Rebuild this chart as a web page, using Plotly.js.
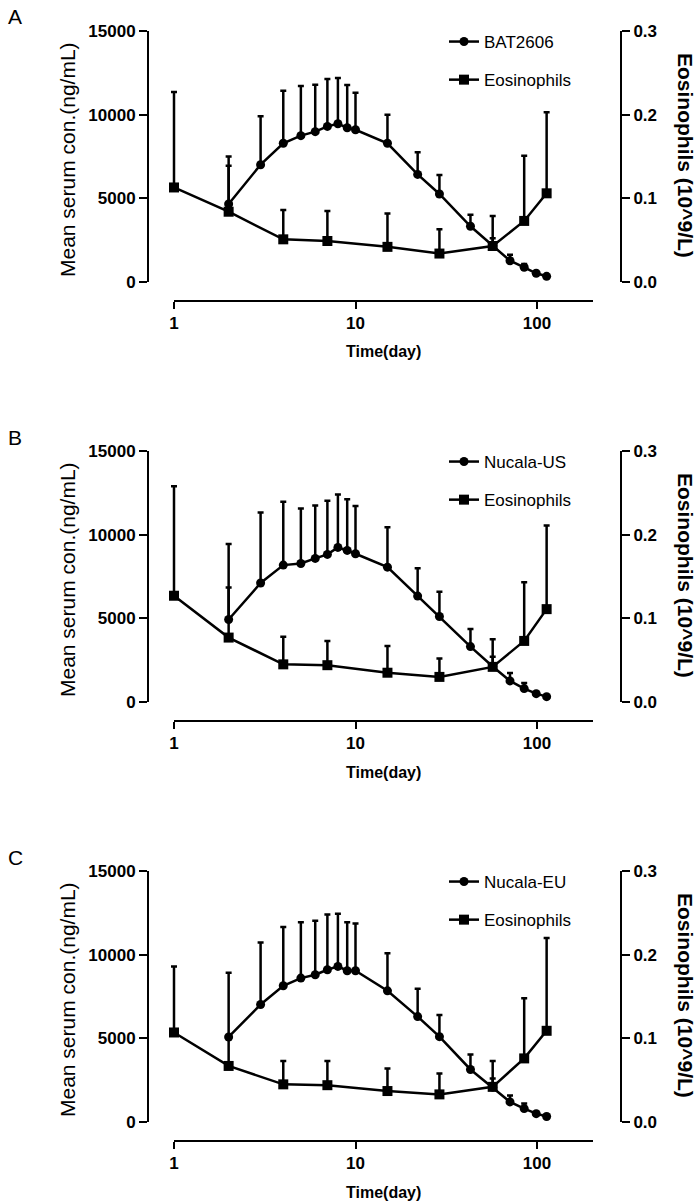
<!DOCTYPE html>
<html>
<head>
<meta charset="utf-8">
<script src="https://cdn.plot.ly/plotly-3.0.1.min.js"></script>
<style>html,body{margin:0;padding:0;background:#fff;}#chart{width:699px;height:1202px;}</style>
</head>
<body>
<div id="chart"></div>
<script>
// ---- data ----
const panelLabels = ["A", "B", "C"];
const drugNames = ["BAT2606", "Nucala-US", "Nucala-EU"];
const eosName = "Eosinophils";

const concDays = [2, 3, 4, 5, 6, 7, 8, 9, 10, 15, 22, 29, 43, 57, 71, 85, 99, 113];
const eosDays = [1, 2, 4, 7, 15, 29, 57, 85, 113];

const concA = [4660, 7010, 8290, 8745, 8985, 9300, 9460, 9220, 9100, 8290, 6430, 5260, 3330, 2170, 1270, 880, 520, 340];
const concSdA = [2290, 2890, 3140, 2965, 2805, 2830, 2730, 2550, 2210, 1710, 1320, 1130, 690, 440, 360, 195, 0, 0];
const eosA = [0.113, 0.084, 0.051, 0.049, 0.042, 0.034, 0.043, 0.073, 0.106];
const eosSdA = [0.114, 0.066, 0.035, 0.036, 0.040, 0.029, 0.036, 0.078, 0.097];

const concB = [4930, 7110, 8180, 8280, 8580, 8820, 9240, 9060, 8860, 8060, 6330, 5110, 3310, 2120, 1260, 800, 500, 320];
const concSdB = [4510, 4210, 3780, 3280, 3160, 3200, 3160, 3060, 2860, 2380, 1670, 1480, 1060, 590, 480, 340, 0, 0];
const eosB = [0.127, 0.077, 0.045, 0.044, 0.035, 0.030, 0.042, 0.073, 0.111];
const eosSdB = [0.131, 0.060, 0.033, 0.029, 0.032, 0.022, 0.033, 0.070, 0.100];

const concC = [5080, 7020, 8140, 8600, 8800, 9100, 9300, 9040, 9040, 7840, 6300, 5100, 3140, 2080, 1200, 800, 500, 330];
const concSdC = [3840, 3700, 3520, 3340, 3220, 3300, 3140, 2900, 2820, 2240, 1660, 1300, 900, 520, 380, 300, 0, 0];
const eosC = [0.107, 0.067, 0.045, 0.044, 0.037, 0.033, 0.042, 0.076, 0.109];
const eosSdC = [0.079, 0.033, 0.028, 0.029, 0.027, 0.025, 0.031, 0.072, 0.111];

const xTickVals = [1, 10, 100];
const xTickText = ["1", "10", "100"];
const yLeftTickVals = [0, 5000, 10000, 15000];
const yLeftTickText = ["0", "5000", "10000", "15000"];
const yRightTickVals = [0, 0.1, 0.2, 0.3];
const yRightTickText = ["0.0", "0.1", "0.2", "0.3"];

const xTitle = "Time(day)";
const yLeftTitle = "Mean serum con.(ng/mL)";
const yRightTitle = "Eosinophils (10^9/L)";

const concSets = [concA, concB, concC];
const concSdSets = [concSdA, concSdB, concSdC];
const eosSets = [eosA, eosB, eosC];
const eosSdSets = [eosSdA, eosSdB, eosSdC];

// ---- layout helpers (pixel -> paper) ----
const W = 699, H = 1202;
const PX = v => v / W;
const PY = v => 1 - v / H;
const FONT = "Liberation Sans, Arial, Helvetica, sans-serif";
const offsets = [0, 420, 840];
const decadePx = 181.5, x1Px = 174;
const xDomPx = [152, 600];
const xRange = [(xDomPx[0] - x1Px) / decadePx, (xDomPx[1] - x1Px) / decadePx];

const traces = [];
const layout = {
  width: W, height: H,
  margin: {l: 0, r: 0, t: 0, b: 0},
  paper_bgcolor: "#fff", plot_bgcolor: "rgba(0,0,0,0)",
  font: {family: FONT, color: "#000"},
  showlegend: true,
  shapes: [], annotations: []
};

for (let p = 0; p < 3; p++) {
  const off = offsets[p];
  const xa = p === 0 ? "x" : "x" + (p + 1);
  const yl = "y" + (2 * p + 1 === 1 ? "" : 2 * p + 1);
  const yr = "y" + (2 * p + 2);
  const legendId = p === 0 ? "legend" : "legend" + (p + 1);
  const xKey = p === 0 ? "xaxis" : "xaxis" + (p + 1);
  const ylKey = "yaxis" + (2 * p + 1 === 1 ? "" : 2 * p + 1);
  const yrKey = "yaxis" + (2 * p + 2);

  const errCommon = {type: "data", symmetric: false, color: "#000", thickness: 2.5, width: 3};

  traces.push({
    x: concDays, y: concSets[p], xaxis: xa, yaxis: yl,
    type: "scatter", mode: "lines+markers", name: drugNames[p],
    legend: legendId, legendgroup: "c" + p,
    line: {color: "#000", width: 2.5},
    marker: {symbol: "circle", size: 9, color: "#000"},
    error_y: Object.assign({array: concSdSets[p], arrayminus: concSdSets[p].map(() => 0)}, errCommon),
    cliponaxis: false
  });
  traces.push({
    x: eosDays, y: eosSets[p], xaxis: xa, yaxis: yr,
    type: "scatter", mode: "lines+markers", name: eosName,
    legend: legendId, legendgroup: "e" + p,
    line: {color: "#000", width: 2.5},
    marker: {symbol: "square", size: 10, color: "#000"},
    error_y: Object.assign({array: eosSdSets[p], arrayminus: eosSdSets[p].map(() => 0)}, errCommon),
    cliponaxis: false
  });

  const yDom = [PY(282 + off), PY(31 + off)];

  layout[xKey] = {
    type: "log", domain: [PX(xDomPx[0]), PX(xDomPx[1])], range: xRange,
    anchor: "free", position: PY(301 + off),
    showline: false, showgrid: false, zeroline: false,
    ticks: "outside", ticklen: 7, tickwidth: 2, tickcolor: "#000",
    tickvals: xTickVals, ticktext: xTickText,
    tickfont: {family: FONT, size: 17, weight: "bold", color: "#000"}
  };
  layout[ylKey] = {
    domain: yDom, range: [0, 15000], anchor: "free", position: PX(148),
    showline: true, linewidth: 2, linecolor: "#000",
    showgrid: false, zeroline: false,
    ticks: "outside", ticklen: 8, tickwidth: 2, tickcolor: "#000",
    tickvals: yLeftTickVals, ticktext: yLeftTickText,
    tickfont: {family: FONT, size: 17, weight: "bold", color: "#000"}
  };
  layout[yrKey] = {
    domain: yDom, range: [0, 0.3], anchor: "free", position: PX(621),
    overlaying: yl, side: "right",
    showline: true, linewidth: 2, linecolor: "#000",
    showgrid: false, zeroline: false,
    ticks: "outside", ticklen: 8, tickwidth: 2, tickcolor: "#000",
    tickvals: yRightTickVals, ticktext: yRightTickText,
    tickfont: {family: FONT, size: 17, weight: "bold", color: "#000"}
  };

  layout[legendId] = {
    x: PX(444), y: PY(24 + off), xanchor: "left", yanchor: "top",
    bgcolor: "rgba(0,0,0,0)", borderwidth: 0,
    font: {family: FONT, size: 17, color: "#000"},
    traceorder: "grouped", tracegroupgap: 13, itemwidth: 30
  };

  // x axis line (spans from day 1 to end of axis)
  layout.shapes.push({
    type: "line", xref: "paper", yref: "paper",
    x0: PX(x1Px), x1: PX(593), y0: PY(301 + off), y1: PY(301 + off),
    line: {color: "#000", width: 2}
  });

  layout.annotations.push(
    {text: panelLabels[p], xref: "paper", yref: "paper", x: PX(15), y: PY(17 + off),
     showarrow: false, xanchor: "center", yanchor: "middle",
     font: {family: FONT, size: 21, color: "#000"}},
    {text: yLeftTitle, xref: "paper", yref: "paper", x: PX(67), y: PY(160 + off),
     showarrow: false, textangle: -90, xanchor: "center", yanchor: "middle",
     font: {family: FONT, size: 21, color: "#000"}},
    {text: yRightTitle, xref: "paper", yref: "paper", x: PX(686), y: PY(155 + off),
     showarrow: false, textangle: 90, xanchor: "center", yanchor: "middle",
     font: {family: FONT, size: 21, weight: "bold", color: "#000"}},
    {text: xTitle, xref: "paper", yref: "paper", x: PX(383), y: PY(352 + off),
     showarrow: false, xanchor: "center", yanchor: "middle",
     font: {family: FONT, size: 16, weight: "bold", color: "#000"}}
  );
}

Plotly.newPlot("chart", traces, layout, {displayModeBar: false, staticPlot: true});
</script>
</body>
</html>
